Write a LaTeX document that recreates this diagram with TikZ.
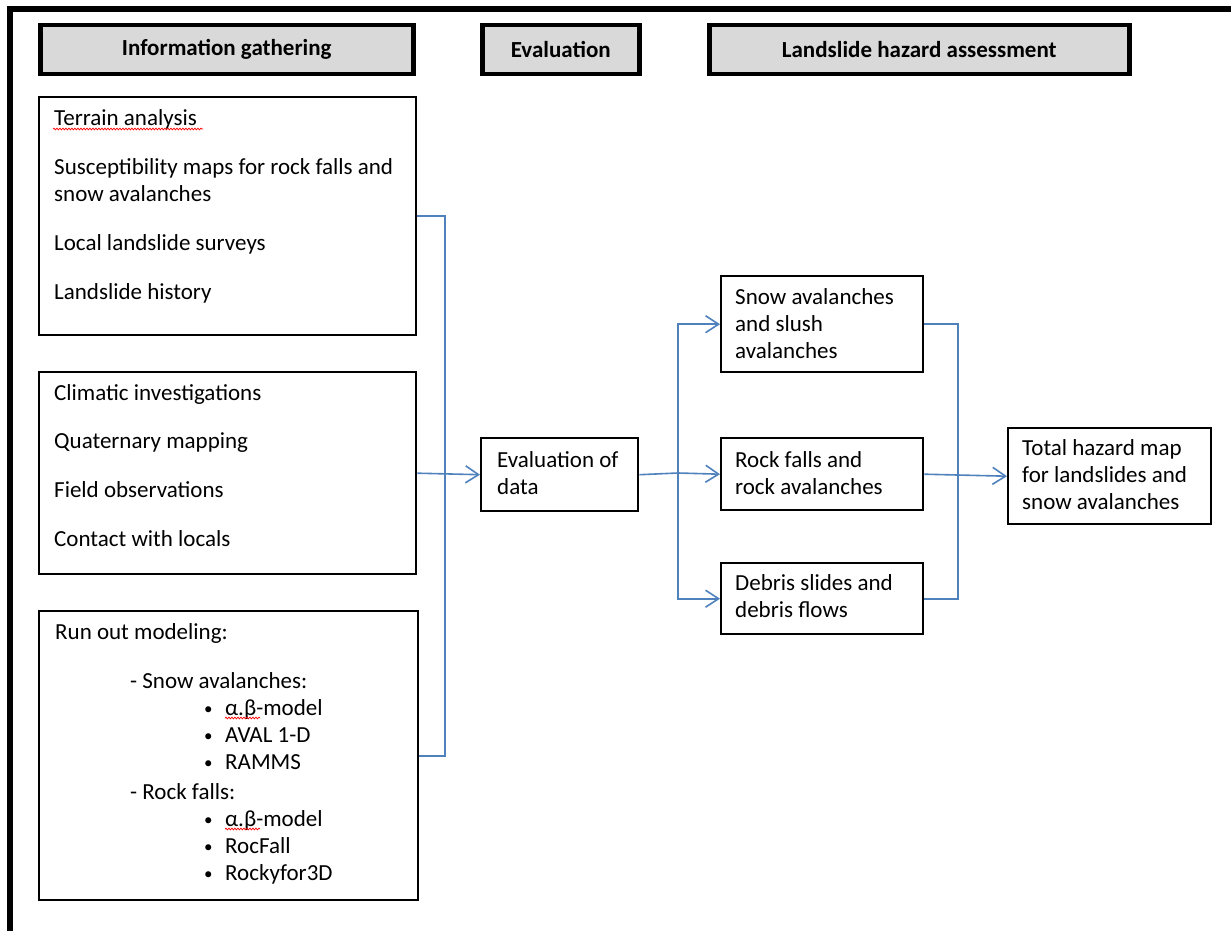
\documentclass[tikz,border=0pt]{standalone}
\usepackage{fontspec}
\setmainfont{Carlito}
\usetikzlibrary{arrows.meta,decorations.pathmorphing}
\definecolor{linkblue}{HTML}{4F81BD}
\definecolor{hdrgray}{HTML}{D9D9D9}
\newcommand{\modelitem}{\makebox[21pt][l]{\raisebox{1pt}{\fontsize{17}{17}\selectfont\textbullet}}}
\begin{document}
\begin{tikzpicture}[x=1pt,y=-1pt,
    hdr/.style={draw=black, line width=4.5pt, fill=hdrgray, inner sep=0pt,
        anchor=north west, font=\bfseries},
    box/.style={draw=black, line width=2.4pt, inner sep=0pt, anchor=north west},
    txt/.style={anchor=base west, inner sep=0pt},
    link/.style={draw=linkblue, line width=1.6pt},
    tip/.style={-{Straight Barb[length=13pt,width=17pt]}},
    spell/.style={draw=red, line width=0.7pt,
        decorate, decoration={snake, amplitude=0.9pt, segment length=3pt}}]
    \fontsize{23}{27}\selectfont
    \useasboundingbox (0,0) rectangle (1231,931);
    % outer frame
    \draw[line width=6pt] (10,931) -- (10,9) -- (1231,9);
    % headers
    \node[hdr, minimum width=373pt, minimum height=49pt] (hinfo) at (38,23) {Information gathering};
    \node[hdr, minimum width=157pt, minimum height=49pt] (heval) at (480,23) {Evaluation};
    \node[hdr, minimum width=420pt, minimum height=49pt] (hland) at (707,23) {Landslide hazard assessment};
    % information boxes
    \node[box, minimum width=377pt, minimum height=238pt] (terrain) at (38,96) {};
    \node[txt] (t1) at (54,125) {Terrain analysis};
    \node[txt] (t2) at (54,174) {Susceptibility maps for rock falls and};
    \node[txt] (t3) at (54,201) {snow avalanches};
    \node[txt] (t4) at (54,250) {Local landslide surveys};
    \node[txt] (t5) at (54,299) {Landslide history};
    \node[box, minimum width=377pt, minimum height=202pt] (climate) at (38,371) {};
    \node[txt] (c1) at (54,400) {Climatic investigations};
    \node[txt] (c2) at (54,448) {Quaternary mapping};
    \node[txt] (c3) at (54,497) {Field observations};
    \node[txt] (c4) at (54,546) {Contact with locals};
    \node[box, minimum width=379pt, minimum height=289pt] (runout) at (38,610) {};
    \node[txt] (r1) at (55,639) {Run out modeling:};
    \node[txt] (r2) at (130,688) {- Snow avalanches:};
    \node[txt] (r3) at (204,715) {\modelitem α.β-model};
    \node[txt] (r4) at (204,742) {\modelitem AVAL 1-D};
    \node[txt] (r5) at (204,769) {\modelitem RAMMS};
    \node[txt] (r6) at (130,799) {- Rock falls:};
    \node[txt] (r7) at (204,826) {\modelitem α.β-model};
    \node[txt] (r8) at (204,853) {\modelitem RocFall};
    \node[txt] (r9) at (204,880) {\modelitem Rockyfor3D};
    % spelling marks
    \draw[spell] (53,129) -- (203,129);
    \draw[spell] (225,718) -- (260,718);
    \draw[spell] (225,829) -- (260,829);
    % evaluation
    \node[box, minimum width=157pt, minimum height=73pt] (eval) at (480,437) {};
    \node[txt] (e1) at (497,467) {Evaluation of};
    \node[txt] (e2) at (497,494) {data};
    % hazard boxes
    \node[box, minimum width=202pt, minimum height=96pt] (snow) at (720,275) {};
    \node[txt] (s1) at (735,304) {Snow avalanches};
    \node[txt] (s2) at (735,331) {and slush};
    \node[txt] (s3) at (735,358) {avalanches};
    \node[box, minimum width=202pt, minimum height=72pt] (rock) at (720,437) {};
    \node[txt] (k1) at (735,467) {Rock falls and};
    \node[txt] (k2) at (735,494) {rock avalanches};
    \node[box, minimum width=202pt, minimum height=71pt] (debris) at (720,562) {};
    \node[txt] (d1) at (735,590) {Debris slides and};
    \node[txt] (d2) at (735,617) {debris flows};
    \node[box, minimum width=203pt, minimum height=96pt] (total) at (1007,427) {};
    \node[txt] (m1) at (1022,455) {Total hazard map};
    \node[txt] (m2) at (1022,482) {for landslides and};
    \node[txt] (m3) at (1022,509) {snow avalanches};
    % connectors
    \coordinate (busL) at (445,472);
    \coordinate (busM) at (678,473);
    \coordinate (busR) at (958,473);
    \draw[link] (terrain.east) -| (busL) |- (runout.east);
    \draw[link, tip] (climate.east) -- (eval.west);
    \draw[link] (eval.east) -- (busM);
    \draw[link, tip] (busM) |- (snow.west);
    \draw[link, tip] (busM) -- (rock.west);
    \draw[link, tip] (busM) |- (debris.west);
    \draw[link] (snow.east) -| (busR) |- (debris.east);
    \draw[link, tip] (rock.east) -- (total.west);
\end{tikzpicture}
\end{document}
